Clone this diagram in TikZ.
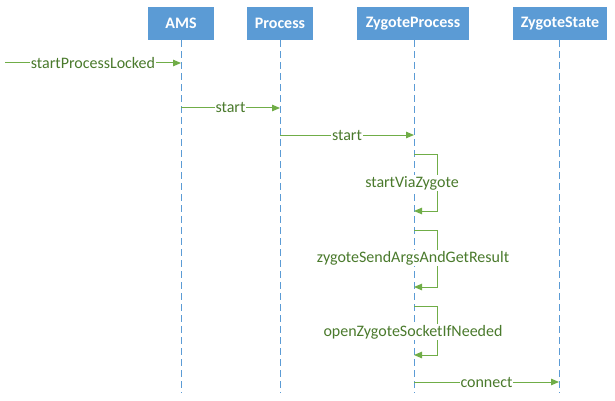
\documentclass[tikz,border=0pt]{standalone}
\usepackage{fontspec}
\setmainfont{Carlito}
\usetikzlibrary{arrows.meta}
\definecolor{boxblue}{HTML}{5B9BD5}
\definecolor{msggreen}{HTML}{70AD47}
\definecolor{txtgreen}{HTML}{4A7A2C}
\begin{document}
\begin{tikzpicture}[x=1pt,y=-1pt,
  actor/.style={fill=boxblue, text=white, font=\bfseries\fontsize{16}{18}\selectfont, minimum height=33pt, inner sep=0pt},
  life/.style={boxblue, dash pattern=on 7pt off 4pt, line width=0.8pt},
  msg/.style={msggreen, line width=1pt, -{Triangle[length=8pt,width=6.5pt]}},
  lbl/.style={fill=white, text=txtgreen, font=\fontsize{16}{18}\selectfont, inner sep=1pt}]
\useasboundingbox (0,0) rectangle (615,401);
% actors
\node[actor, minimum width=66pt]  (ams)  at (181,23.5) {AMS};
\node[actor, minimum width=66pt]  (proc) at (280,23.5) {Process};
\node[actor, minimum width=112pt] (zp)   at (413,23.5) {ZygoteProcess};
\node[actor, minimum width=94pt]  (zs)   at (560,23.5) {ZygoteState};
% lifeline ends
\coordinate (amsE)  at (181,393);
\coordinate (procE) at (280,393);
\coordinate (zpE)   at (414,393);
\coordinate (zsE)   at (559,393);
\draw[life] (ams.south)  -- (amsE);
\draw[life] (proc.south) -- (procE);
\draw[life] (414,40) -- (zpE);
\draw[life] (559,40) -- (zsE);
% message points
\coordinate (m0a) at (5,63);   \coordinate (m0b) at (181,63);
\coordinate (m1a) at (181,108); \coordinate (m1b) at (280,108);
\coordinate (m2a) at (280,135); \coordinate (m2b) at (414,135);
\coordinate (m6a) at (414,382); \coordinate (m6b) at (559,382);
\draw[msg] (m0a) -- node[lbl]{startProcessLocked} (m0b);
\draw[msg] (m1a) -- node[lbl]{start} (m1b);
\draw[msg] (m2a) -- node[lbl]{start} (m2b);
\draw[msg] (m6a) -- node[lbl]{connect} (m6b);
% self loops
\coordinate (l1a) at (414,154); \coordinate (l1b) at (414,211);
\coordinate (l2a) at (414,230); \coordinate (l2b) at (414,287);
\coordinate (l3a) at (414,306); \coordinate (l3b) at (414,355);
\draw[msg] (l1a) -- ++(23,0) |- (l1b);
\draw[msg] (l2a) -- ++(23,0) |- (l2b);
\draw[msg] (l3a) -- ++(23,0) |- (l3b);
\node[lbl] (t1) at (412,183) {startViaZygote};
\node[lbl] (t2) at (413,258) {zygoteSendArgsAndGetResult};
\node[lbl] (t3) at (413,332) {openZygoteSocketIfNeeded};
\end{tikzpicture}
\end{document}
